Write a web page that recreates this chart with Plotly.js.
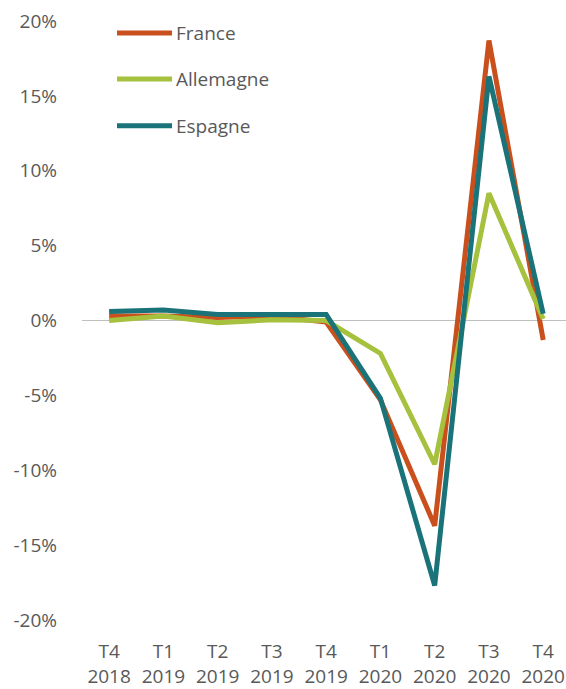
<!DOCTYPE html>
<html>
<head>
<meta charset="utf-8">
<script src="https://cdn.plot.ly/plotly-3.0.1.min.js"></script>
<style>html,body{margin:0;padding:0;background:#fff;}#chart{width:566px;height:689px;}</style>
</head>
<body>
<div id="chart"></div>
<script>
const categories = ["T4<br>2018","T1<br>2019","T2<br>2019","T3<br>2019","T4<br>2019","T1<br>2020","T2<br>2020","T3<br>2020","T4<br>2020"];
const france    = [0.3, 0.3, 0.2, 0.3, -0.1, -5.3, -13.7, 18.7, -1.3];
const allemagne = [0.0, 0.3, -0.15, 0.05, 0.0, -2.2, -9.6, 8.5, 0.1];
const espagne   = [0.6, 0.7, 0.4, 0.4, 0.4, -5.2, -17.7, 16.3, 0.45];
const seriesNames = ["France","Allemagne","Espagne"];
const colors = ["#C9501C","#A5C13D","#1A7378"];
const yTickVals = [-20,-15,-10,-5,0,5,10,15,20];
const yTickText = ["-20%","-15%","-10%","-5%","0%","5%","10%","15%","20%"];

const font = "'Open Sans', sans-serif";
const allData = [france, allemagne, espagne];
const traces = allData.map((d,i)=>({
  x: categories, y: d, type: "scatter", mode: "lines", name: seriesNames[i],
  line: {color: colors[i], width: 5}, showlegend: false, hoverinfo: "none"
}));

const legY = [0.98, 0.903, 0.825];
const shapes = seriesNames.map((n,i)=>({
  type:"line", xref:"paper", yref:"paper", x0:0.0723, x1:0.186, y0:legY[i], y1:legY[i],
  line:{color:colors[i], width:5}
}));
const annotations = seriesNames.map((n,i)=>({
  xref:"paper", yref:"paper", x:0.19, y:legY[i], xanchor:"left", yanchor:"middle",
  text:n, showarrow:false, font:{family:font, size:19, color:"#595959"}
}));

const layout = {
  width:566, height:689,
  margin:{l:82, r:0, t:21, b:69, pad:0},
  paper_bgcolor:"#fff", plot_bgcolor:"#fff",
  font:{family:font, size:19, color:"#595959"},
  xaxis:{type:"category", range:[-0.5, 8.42], showgrid:false, zeroline:false, showline:false,
         ticks:"", tickfont:{family:font, size:19, color:"#595959"}, ticklabelstandoff:18, fixedrange:true},
  yaxis:{range:[-20,20], tickvals:yTickVals, ticktext:yTickText, showgrid:false,
         zeroline:true, zerolinecolor:"#BFBFBF", zerolinewidth:1.5, showline:false, ticks:"",
         tickfont:{family:font, size:19, color:"#595959"}, ticklabelstandoff:24, fixedrange:true},
  shapes: shapes, annotations: annotations
};
Plotly.newPlot("chart", traces, layout, {staticPlot:true, displayModeBar:false});
</script>
</body>
</html>
